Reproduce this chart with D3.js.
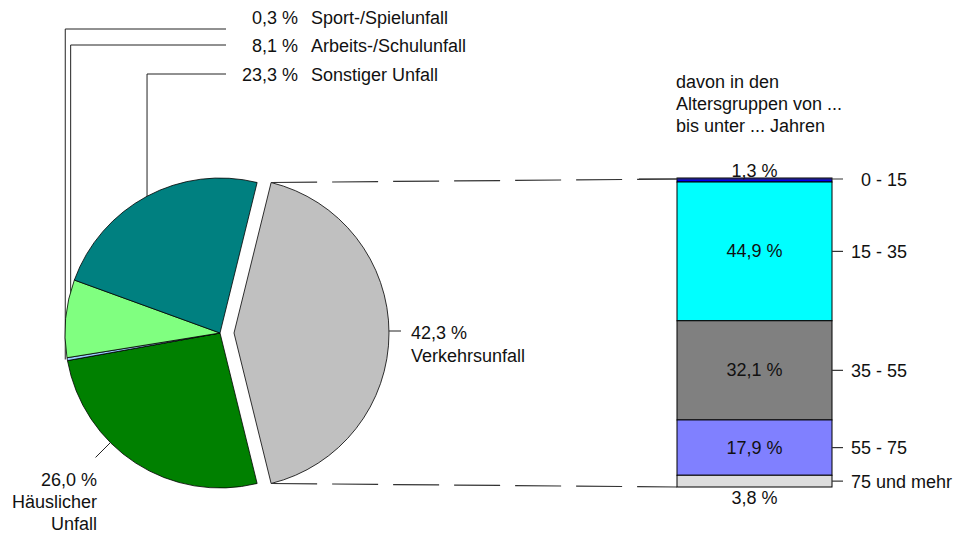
<!DOCTYPE html>
<html>
<head>
<meta charset="utf-8">
<script src="https://cdn.jsdelivr.net/npm/d3@7"></script>
<style>
  body { margin: 0; background: #fff; }
  text { font-family: "Liberation Sans", Arial, sans-serif; font-size: 18px; fill: #111; }
</style>
</head>
<body>
<div id="chart"></div>
<script>
// Unfallarten (Anteile in %)
const categories = ["Verkehrsunfall", "Häuslicher Unfall", "Sport-/Spielunfall", "Arbeits-/Schulunfall", "Sonstiger Unfall"];
const shares = [42.3, 26.0, 0.3, 8.1, 23.3];
const pieColors = ["#c0c0c0", "#008000", "#99ccff", "#80ff80", "#008080"];

// davon Verkehrsunfall nach Altersgruppen
const ageGroups = ["0 - 15", "15 - 35", "35 - 55", "55 - 75", "75 und mehr"];
const ageShares = [1.3, 44.9, 32.1, 17.9, 3.8];
const barColors = ["#0000f0", "#00ffff", "#808080", "#8080ff", "#dddddd"];

const width = 958;
const height = 536;
const fmt = (v) => d3.format(".1f")(v).replace(".", ",") + " %";

const svg = d3
  .select("#chart")
  .append("svg")
  .attr("width", width)
  .attr("height", height);

// Pie

const cx = 220;
const cy = 333;
const radius = 155;
const explode = 14;

const firstAngle = (shares[0] / 100) * 2 * Math.PI;
const pie = d3
  .pie()
  .sort(null)
  .startAngle(Math.PI / 2 - firstAngle / 2)
  .endAngle(Math.PI / 2 - firstAngle / 2 + 2 * Math.PI);

const arcs = pie(shares);
const arc = d3.arc().innerRadius(0).outerRadius(radius);

function polar(angle, r) {
  return [Math.sin(angle) * r, -Math.cos(angle) * r];
}

// leader lines for labels at the top (drawn below the pie)
const topLabels = [
  { i: 2, baseline: 24, lineY: 29, r: radius + 2 },
  { i: 3, baseline: 52, lineY: 45, r: radius - 5 },
  { i: 4, baseline: 81, lineY: 74, r: radius },
];

const leaders = svg.append("g").attr("stroke", "#222").attr("stroke-width", 1).attr("fill", "none");

topLabels.forEach(function (l) {
  const a = arcs[l.i];
  const mid = (a.startAngle + a.endAngle) / 2;
  const p = polar(mid, l.r);
  leaders
    .append("polyline")
    .attr("points", [[cx + p[0], cy + p[1]], [cx + p[0], l.lineY], [226, l.lineY]].join(" "));
});

const pieG = svg.append("g").attr("transform", `translate(${cx},${cy})`);

pieG
  .selectAll("path")
  .data(arcs)
  .enter()
  .append("path")
  .attr("d", arc)
  .attr("transform", function (d, i) {
    if (i !== 0) return null;
    const mid = (d.startAngle + d.endAngle) / 2;
    const p = polar(mid, explode);
    return `translate(${p[0]},${p[1]})`;
  })
  .attr("fill", (d, i) => pieColors[i])
  .attr("stroke", "#000")
  .attr("stroke-width", 0.8);

// top labels
topLabels.forEach(function (l) {
  svg
    .append("text")
    .attr("x", 298)
    .attr("y", l.baseline)
    .attr("text-anchor", "end")
    .text(fmt(shares[l.i]));
  svg
    .append("text")
    .attr("x", 311)
    .attr("y", l.baseline)
    .text(categories[l.i]);
});

// Verkehrsunfall label
const vMid = (arcs[0].startAngle + arcs[0].endAngle) / 2;
const vOff = polar(vMid, explode);
const v1 = polar(vMid, radius);
const v2 = polar(vMid, radius + 12);
svg
  .append("line")
  .attr("x1", cx + vOff[0] + v1[0])
  .attr("y1", cy + vOff[1] + v1[1] - 2)
  .attr("x2", cx + vOff[0] + v2[0])
  .attr("y2", cy + vOff[1] + v2[1] - 2)
  .attr("stroke", "#222");
svg.append("text").attr("x", 411).attr("y", 339).text(fmt(shares[0]));
svg.append("text").attr("x", 411).attr("y", 362).text(categories[0]);

// Häuslicher Unfall label
const hAngle = (225 * Math.PI) / 180;
const h1 = polar(hAngle, radius);
const h2 = polar(hAngle, radius + 21);
svg
  .append("line")
  .attr("x1", cx + h1[0])
  .attr("y1", cy + h1[1])
  .attr("x2", cx + h2[0])
  .attr("y2", cy + h2[1])
  .attr("stroke", "#222");
const hText = svg.append("text").attr("text-anchor", "end");
[fmt(shares[1]), "Häuslicher", "Unfall"].forEach(function (t, k) {
  hText.append("tspan").attr("x", 97).attr("y", 486 + k * 22).text(t);
});

// Stacked bar

const barX = 677;
const barW = 155;
const yBar = d3.scaleLinear().domain([0, 100]).range([178, 487]);
const ends = d3.cumsum(ageShares);
const segs = ageShares.map((v, i) => ({ v: v, y0: ends[i] - v, y1: ends[i], label: ageGroups[i] }));

// dashed connectors from exploded slice to the bar
const sliceTop = polar(arcs[0].startAngle, radius);
const sliceBot = polar(arcs[0].endAngle, radius);
svg
  .append("g")
  .attr("stroke", "#333")
  .attr("stroke-width", 1.2)
  .attr("stroke-dasharray", "46,15")
  .selectAll("line")
  .data([
    [cx + vOff[0] + sliceTop[0], cy + vOff[1] + sliceTop[1], yBar(0) + 1],
    [cx + vOff[0] + sliceBot[0], cy + vOff[1] + sliceBot[1], yBar(100)],
  ])
  .enter()
  .append("line")
  .attr("x1", (d) => d[0])
  .attr("y1", (d) => d[1])
  .attr("x2", barX)
  .attr("y2", (d) => d[2]);

svg
  .append("g")
  .selectAll("rect")
  .data(segs)
  .enter()
  .append("rect")
  .attr("x", barX)
  .attr("y", (d) => yBar(d.y0))
  .attr("width", barW)
  .attr("height", (d) => yBar(d.y1) - yBar(d.y0))
  .attr("fill", (d, i) => barColors[i])
  .attr("stroke", "#000")
  .attr("stroke-width", 1);

// ticks + age group labels
svg
  .append("g")
  .selectAll("line")
  .data(segs)
  .enter()
  .append("line")
  .attr("x1", (d, i) => (i === 0 ? barX - 38 : barX + barW))
  .attr("x2", barX + barW + 11)
  .attr("y1", (d, i) => (i === 0 ? yBar(0) + 1 : yBar((d.y0 + d.y1) / 2)))
  .attr("y2", (d, i) => (i === 0 ? yBar(0) + 1 : yBar((d.y0 + d.y1) / 2)))
  .attr("stroke", "#333")
  .attr("stroke-width", 1.2);

svg
  .append("g")
  .selectAll("text")
  .data(segs)
  .enter()
  .append("text")
  .attr("x", (d, i) => (i < segs.length - 1 ? 907 : 851))
  .attr("y", (d) => yBar((d.y0 + d.y1) / 2))
  .attr("dy", "0.36em")
  .attr("text-anchor", (d, i) => (i < segs.length - 1 ? "end" : "start"))
  .text((d) => d.label);

// percentage labels
svg
  .append("g")
  .selectAll("text")
  .data(segs)
  .enter()
  .append("text")
  .attr("x", barX + barW / 2)
  .attr("y", function (d, i) {
    if (i === 0) return yBar(d.y0) - 1;
    if (i === segs.length - 1) return yBar(d.y1) + 17;
    return yBar((d.y0 + d.y1) / 2) + 6;
  })
  .attr("text-anchor", "middle")
  .text((d) => fmt(d.v));

// header
const head = svg.append("text");
["davon in den", "Altersgruppen von ...", "bis unter ... Jahren"].forEach(function (t, k) {
  head.append("tspan").attr("x", 676).attr("y", 88 + k * 22).text(t);
});
</script>
</body>
</html>
